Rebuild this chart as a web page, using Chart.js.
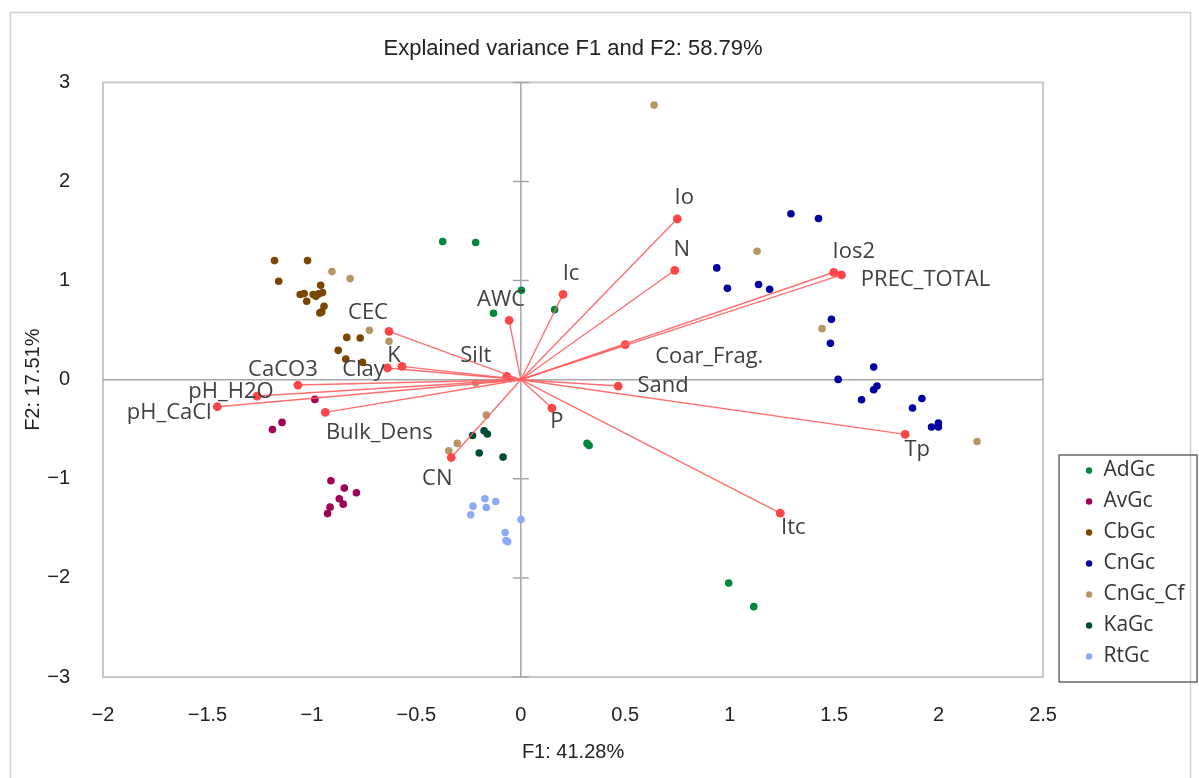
<!DOCTYPE html>
<html>
<head>
<meta charset="utf-8">
<script src="https://cdn.jsdelivr.net/npm/chart.js@4.4.1/dist/chart.umd.min.js"></script>
<style>
  html, body { margin: 0; padding: 0; background: #fff; }
  #wrap { width: 1199px; height: 778px; position: relative; }
</style>
</head>
<body>
<div id="wrap"><canvas id="pcaChart"></canvas></div>
<script>
// observations (F1 / F2 scores), one pair of arrays per soil group
const groupNames = ['AdGc', 'AvGc', 'CbGc', 'CnGc', 'CnGc_Cf', 'KaGc', 'RtGc'];
const groupColors = ['#00873c', '#a00055', '#7a4600', '#0000a0', '#b89664', '#004b37', '#8caaf5'];

const adGcX = [-0.374, -0.216, 0.003, -0.131, 0.162, 0.317, 0.327, 0.995, 1.115];
const adGcY = [1.394, 1.384, 0.902, 0.670, 0.707, -0.643, -0.664, -2.051, -2.290];

const avGcX = [-0.986, -1.143, -1.189, -0.909, -0.845, -0.787, -0.869, -0.850, -0.913, -0.925];
const avGcY = [-0.199, -0.431, -0.502, -1.020, -1.094, -1.141, -1.202, -1.256, -1.286, -1.351];

const cbGcX = [-1.179, -1.021, -1.159, -0.958, -1.056, -1.037, -1.025, -0.994, -0.968, -0.949,
               -0.981, -0.942, -0.962, -0.953, -0.833, -0.769, -0.874, -0.838, -0.758];
const cbGcY = [1.202, 1.202, 0.993, 0.953, 0.859, 0.869, 0.791, 0.859, 0.866, 0.879,
               0.841, 0.740, 0.674, 0.684, 0.427, 0.421, 0.296, 0.209, 0.175];

const cnGcX = [1.293, 1.425, 0.938, 0.989, 1.138, 1.191, 1.487, 1.482, 1.689,
               1.519, 1.705, 1.689, 1.631, 1.920, 1.875, 1.966, 1.999, 1.999];
const cnGcY = [1.674, 1.626, 1.128, 0.922, 0.960, 0.912, 0.609, 0.367, 0.128,
               0.003, -0.064, -0.101, -0.202, -0.189, -0.286, -0.478, -0.437, -0.478];

const cnGcCfX = [0.638, 1.131, 1.442, 2.184, -0.904, -0.817, -0.725, -0.631, -0.216, -0.165, -0.304, -0.345];
const cnGcCfY = [2.771, 1.296, 0.515, -0.623, 1.091, 1.020, 0.498, 0.387, -0.033, -0.357, -0.643, -0.717];

const kaGcX = [-0.231, -0.176, -0.160, -0.199, -0.085];
const kaGcY = [-0.563, -0.515, -0.548, -0.740, -0.781];

const rtGcX = [-0.172, -0.120, -0.229, -0.165, -0.240, 0.001, -0.075, -0.071, -0.063];
const rtGcY = [-1.202, -1.229, -1.276, -1.290, -1.364, -1.411, -1.542, -1.623, -1.636];

const groupX = [adGcX, avGcX, cbGcX, cnGcX, cnGcCfX, kaGcX, rtGcX];
const groupY = [adGcY, avGcY, cbGcY, cnGcY, cnGcCfY, kaGcY, rtGcY];

// variables (loadings)
const varNames = ['CEC', 'K', 'Clay', 'CaCO3', 'pH_H2O', 'pH_CaCl', 'Bulk_Dens', 'Silt', 'AWC', 'Ic',
                  'Io', 'N', 'Ios2', 'PREC_TOTAL', 'Coar_Frag.', 'Sand', 'P', 'CN', 'Tp', 'Itc'];
const varF1 = [-0.631, -0.569, -0.638, -1.067, -1.263, -1.453, -0.936, -0.067, -0.056, 0.202,
               0.749, 0.737, 1.498, 1.535, 0.500, 0.466, 0.149, -0.333, 1.840, 1.242];
const varF2 = [0.488, 0.134, 0.118, -0.054, -0.165, -0.273, -0.330, 0.034, 0.599, 0.862,
               1.623, 1.104, 1.084, 1.057, 0.354, -0.064, -0.286, -0.785, -0.552, -1.347];
// where each variable name sits relative to its arrow tip (px)
const varLabelDx = [-21, -8, -24, -15, -26, -48, 54, -31, -8, 8, 7, 7, 20, 84, 84, 45, 5, -14, 12, 13];
const varLabelDy = [-19, -11, 2, -15, -4, 6, 20, -21, -21, -21, -21, -21, -21, 5, 12, 0, 14, 21, 15, 15];

const xTicks = [-2, 2.5, 0.5];   // min, max, step
const yTicks = [-3, 3, 1];

const labelFont = "'Open Sans', sans-serif";
const axisFont = "'Liberation Sans', Arial, sans-serif";

function fmtTick(v) {
    return String(v).replace('-', '\u2212');
}

const datasets = [];
groupNames.forEach((name, g) => {
    datasets.push({
        label: name,
        data: groupX[g].map((x, i) => ({ x: x, y: groupY[g][i] })),
        backgroundColor: groupColors[g],
        borderColor: groupColors[g],
        borderWidth: 0,
        pointRadius: 3.8,
        order: 1
    });
});
varNames.forEach((name, i) => {
    datasets.push({
        label: name,
        data: [{ x: 0, y: 0 }, { x: varF1[i], y: varF2[i] }],
        showLine: true,
        borderColor: 'rgba(255, 95, 95, 0.9)',
        borderWidth: 1.4,
        backgroundColor: '#ff4545',
        pointBackgroundColor: '#ff4545',
        pointBorderWidth: 0,
        pointRadius: [0, 4.4],
        order: 0
    });
});

const framePlugin = {
    id: 'frame',
    beforeDraw(chart) {
        const ctx = chart.ctx;
        ctx.save();
        ctx.fillStyle = '#fff';
        ctx.fillRect(0, 0, chart.width, chart.height);
        ctx.strokeStyle = '#d0d0d0';
        ctx.lineWidth = 1.5;
        ctx.strokeRect(10.5, 12.5, 1180, 800);
        ctx.restore();
    },
    beforeDatasetsDraw(chart) {
        const { ctx, chartArea: a, scales } = chart;
        ctx.save();
        ctx.strokeStyle = '#c8c8c8';
        ctx.lineWidth = 2;
        ctx.strokeRect(a.left, a.top, a.right - a.left, a.bottom - a.top);
        const x0 = scales.x.getPixelForValue(0);
        const y0 = scales.y.getPixelForValue(0);
        ctx.strokeStyle = '#a6a6a6';
        ctx.lineWidth = 1.5;
        ctx.beginPath();
        ctx.moveTo(x0, a.top); ctx.lineTo(x0, a.bottom);
        ctx.moveTo(a.left, y0); ctx.lineTo(a.right, y0);
        for (let v = yTicks[0]; v <= yTicks[1]; v += yTicks[2]) {
            const py = scales.y.getPixelForValue(v);
            ctx.moveTo(x0 - 8, py); ctx.lineTo(x0 + 8, py);
        }
        ctx.stroke();
        ctx.restore();
    },
    afterDatasetsDraw(chart) {
        const { ctx, scales } = chart;
        ctx.save();
        ctx.font = "22px " + labelFont;
        ctx.fillStyle = '#404040';
        ctx.textAlign = 'center';
        ctx.textBaseline = 'middle';
        varNames.forEach((name, i) => {
            const px = scales.x.getPixelForValue(varF1[i]) + varLabelDx[i];
            const py = scales.y.getPixelForValue(varF2[i]) + varLabelDy[i];
            ctx.fillText(name, px, py);
        });
        ctx.restore();
    },
    afterDraw(chart) {
        const lg = chart.legend;
        if (!lg || !lg.legendHitBoxes.length) return;
        const boxes = lg.legendHitBoxes;
        const first = boxes[0];
        const last = boxes[boxes.length - 1];
        const ctx = chart.ctx;
        ctx.save();
        ctx.strokeStyle = '#666';
        ctx.lineWidth = 1.5;
        const left = lg.left - 16;
        const top = first.top - 5;
        ctx.strokeRect(left, top, lg.right + 2.5 - left, last.top + last.height + 15 - top);
        ctx.restore();
    }
};

new Chart(document.getElementById('pcaChart'), {
    type: 'scatter',
    data: { datasets: datasets },
    options: {
        responsive: true,
        maintainAspectRatio: false,
        animation: false,
        layout: { padding: { left: 0, right: 4.5, top: 0, bottom: 0 } },
        plugins: {
            tooltip: { enabled: false },
            title: {
                display: true,
                fullSize: false,
                text: 'Explained variance F1 and F2: 58.79%',
                color: '#222',
                font: { family: axisFont, size: 22, weight: 'normal' },
                padding: { top: 36, bottom: 20 }
            },
            legend: {
                position: 'right',
                align: 'end',
                fullSize: false,
                labels: {
                    usePointStyle: true,
                    pointStyle: 'circle',
                    boxWidth: 8,
                    boxHeight: 4.5,
                    padding: 10,
                    color: '#333',
                    font: { family: labelFont, size: 21 },
                    filter: item => item.datasetIndex < groupNames.length
                }
            }
        },
        scales: {
            x: {
                type: 'linear',
                min: xTicks[0],
                max: xTicks[1],
                grid: { display: false, drawTicks: false },
                border: { display: false },
                ticks: {
                    stepSize: xTicks[2],
                    padding: 26,
                    maxRotation: 0,
                    color: '#222',
                    font: { family: axisFont, size: 20 },
                    callback: v => fmtTick(v)
                },
                title: {
                    display: true,
                    text: 'F1: 41.28%',
                    color: '#222',
                    font: { family: axisFont, size: 20 },
                    padding: { top: 0, bottom: 14 }
                },
                afterFit: s => { s.height = 101; }
            },
            y: {
                type: 'linear',
                min: yTicks[0],
                max: yTicks[1],
                grid: { display: false, drawTicks: false },
                border: { display: false },
                ticks: {
                    stepSize: yTicks[2],
                    padding: 33,
                    color: '#222',
                    font: { family: axisFont, size: 20 },
                    callback: v => fmtTick(v)
                },
                title: {
                    display: true,
                    text: 'F2: 17.51%',
                    color: '#222',
                    font: { family: axisFont, size: 20 },
                    padding: { top: 21, bottom: 0 }
                },
                afterFit: s => { s.width = 103; }
            },
            // empty spacer between plot and legend
            gap: {
                type: 'linear',
                axis: 'y',
                position: 'right',
                grid: { display: false },
                border: { display: false },
                ticks: { display: false },
                afterFit: s => { s.width = 32; }
            }
        }
    },
    plugins: [framePlugin]
});
</script>
</body>
</html>
